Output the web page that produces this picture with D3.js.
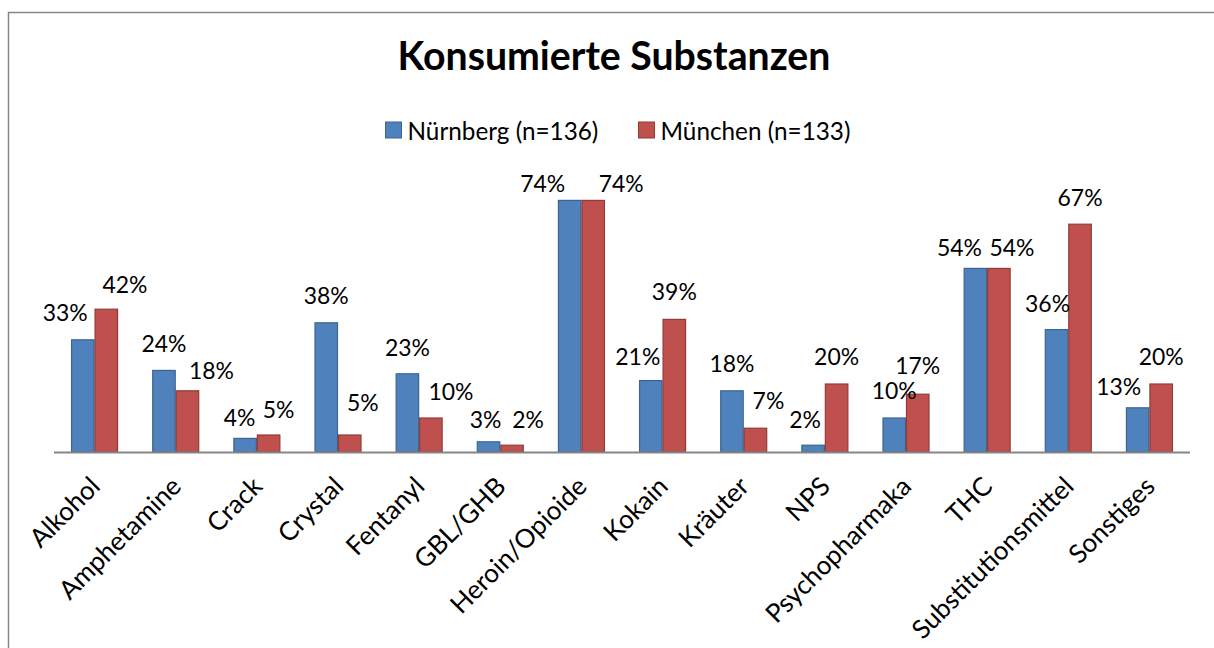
<!DOCTYPE html>
<html><head><meta charset="utf-8">
<script src="https://cdn.jsdelivr.net/npm/d3@7"></script>
<style>
html,body{margin:0;padding:0;background:#fff;}
svg{display:block;}
text{font-family:Lato,"Open Sans","DejaVu Sans",sans-serif;fill:#000;}
</style></head>
<body>
<svg id="chart" width="1214" height="648"></svg>
<script>
// ---- data ----
const categories = ["Alkohol","Amphetamine","Crack","Crystal","Fentanyl","GBL/GHB","Heroin/Opioide","Kokain","Kräuter","NPS","Psychopharmaka","THC","Substitutionsmittel","Sonstiges"];
const seriesNames = ["Nürnberg (n=136)","München (n=133)"];
const nuernberg = [33,24,4,38,23,3,74,21,18,2,10,54,36,13];
const muenchen  = [42,18,5,5,10,2,74,39,7,20,17,54,67,20];
const title = "Konsumierte Substanzen";

// ---- layout (label nudges as placed in the original) ----
const labelDx = [
  [-17.6,0,-5.5,0,0,-3,-27,-13,0,-8,0,-16,-9,-19],
  [18.7,24,10,13,20,16,28,0,13,0,0,13,0,0]
];
const labelDy = [
  [-19,-18,-12,-19,-18,-14,-8,-16,-19,-17,-19,-12,-18,-13],
  [-16,-12,-17,-24,-18,-17,-8,-19,-19,-19,-20,-12,-18,-19]
];
const colors = ["#4F81BD","#C0504D"];
const strokes = ["#3B6591","#8F3C39"];

const svg = d3.select("#chart");
const W = 1214, H = 648;

function fitSize(txt, weight, target){
  const t = svg.append("text").attr("font-size",100).attr("font-weight",weight).text(txt);
  const w = t.node().getComputedTextLength();
  t.remove();
  return 100*target/w;
}

// frame
svg.append("rect").attr("x",8.5).attr("y",12.5).attr("width",W).attr("height",H)
  .attr("fill","#fff").attr("stroke","#868686").attr("stroke-width",1.5);

const x0 = d3.scaleBand().domain(categories).range([54,1190]).paddingInner(0).paddingOuter(0);
const x1 = d3.scaleBand().domain([0,1]).range([0,x0.bandwidth()]).paddingInner(0).paddingOuter(0.7265);
const y = d3.scaleLinear().domain([0,100]).range([452,112]);

// title
const titleSize = fitSize(title,"bold",433);
svg.append("text").attr("x",614).attr("y",70).attr("text-anchor","middle")
  .attr("font-size",titleSize).attr("font-weight","bold").text(title);

// legend
const legSize = fitSize(seriesNames[0],"normal",191);
const legX = [385.5,638.5];
seriesNames.forEach((s,i)=>{
  svg.append("rect").attr("x",legX[i]).attr("y",122).attr("width",16).attr("height",16)
    .attr("fill",colors[i]).attr("stroke",strokes[i]).attr("stroke-width",1);
  svg.append("text").attr("x",legX[i]+22).attr("y",139.5).attr("font-size",legSize).text(s);
});

// bars
const series = [nuernberg, muenchen];
const labSize = fitSize("33%","normal",45);
series.forEach((vals,si)=>{
  const g = svg.append("g");
  g.selectAll("rect").data(vals).join("rect")
    .attr("x",(d,i)=>x0(categories[i])+x1(si)+0.5)
    .attr("y",d=>y(d))
    .attr("width",x1.bandwidth()-1)
    .attr("height",d=>y(0)-y(d))
    .attr("fill",colors[si]).attr("stroke",strokes[si]).attr("stroke-width",1.2);
});

// axis line
svg.append("line").attr("x1",x0.range()[0]).attr("x2",x0.range()[1])
  .attr("y1",y(0)+0.5).attr("y2",y(0)+0.5).attr("stroke","#868686").attr("stroke-width",1.8);

// data labels
series.forEach((vals,si)=>{
  svg.append("g").selectAll("text").data(vals).join("text")
    .attr("x",(d,i)=>x0(categories[i])+x1(si)+x1.bandwidth()/2+labelDx[si][i])
    .attr("y",(d,i)=>y(d)+labelDy[si][i])
    .attr("text-anchor","middle").attr("font-size",labSize)
    .text(d=>d+"%");
});

// category labels
const catSize = fitSize("Amphetamine","normal",160);
svg.append("g").selectAll("text").data(categories).join("text")
  .attr("text-anchor","end").attr("font-size",catSize)
  .attr("transform",d=>`translate(${x0(d)+x0.bandwidth()/2+7},${488}) rotate(-45)`)
  .text(d=>d);
</script>
</body></html>
